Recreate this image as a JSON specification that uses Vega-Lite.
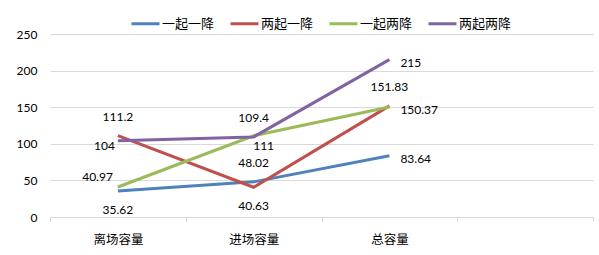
{
  "$schema": "https://vega.github.io/schema/vega-lite/v6.json",
  "width": 543,
  "height": 183,
  "autosize": {"type": "none"},
  "padding": {"left": 50, "top": 34, "right": 6, "bottom": 38},
  "background": "white",
  "data": {
    "values": [
      {"series": "一起一降", "cat": "离场容量", "value": 35.62},
      {"series": "一起一降", "cat": "进场容量", "value": 48.02},
      {"series": "一起一降", "cat": "总容量", "value": 83.64},
      {"series": "两起一降", "cat": "离场容量", "value": 111.2},
      {"series": "两起一降", "cat": "进场容量", "value": 40.63},
      {"series": "两起一降", "cat": "总容量", "value": 151.83},
      {"series": "一起两降", "cat": "离场容量", "value": 40.97},
      {"series": "一起两降", "cat": "进场容量", "value": 111},
      {"series": "一起两降", "cat": "总容量", "value": 150.37},
      {"series": "两起两降", "cat": "离场容量", "value": 104},
      {"series": "两起两降", "cat": "进场容量", "value": 109.4},
      {"series": "两起两降", "cat": "总容量", "value": 215}
    ]
  },
  "encoding": {
    "x": {
      "field": "cat",
      "type": "nominal",
      "sort": null,
      "scale": {"type": "band", "domain": ["离场容量", "进场容量", "总容量", ""], "paddingInner": 0, "paddingOuter": 0},
      "axis": {
        "title": null,
        "labelAngle": 0,
        "tickBand": "extent",
        "grid": false,
        "domainColor": "#d9d9d9",
        "tickColor": "#d9d9d9",
        "tickSize": 4,
        "labelPadding": 12,
        "labelFont": "Noto Sans CJK SC",
        "labelFontSize": 12.5,
        "labelColor": "#000000"
      }
    },
    "y": {
      "field": "value",
      "type": "quantitative",
      "scale": {"domain": [0, 250], "nice": false},
      "axis": {
        "title": null,
        "values": [0, 50, 100, 150, 200, 250],
        "grid": true,
        "gridColor": "#d9d9d9",
        "domain": false,
        "ticks": false,
        "labelPadding": 13,
        "labelFont": "Lato",
        "labelFontSize": 12,
        "labelColor": "#000000"
      }
    }
  },
  "layer": [
    {
      "mark": {"type": "line", "strokeWidth": 3},
      "encoding": {
        "color": {
          "field": "series",
          "type": "nominal",
          "scale": {
            "domain": ["一起一降", "两起一降", "一起两降", "两起两降"],
            "range": ["#4F81BD", "#C0504D", "#9BBB59", "#8064A2"]
          },
          "legend": {
            "title": null,
            "orient": "none",
            "direction": "horizontal",
            "legendX": 80,
            "legendY": -26,
            "symbolType": "stroke",
            "symbolSize": 784,
            "symbolStrokeWidth": 3,
            "labelOffset": 1,
            "columnPadding": 9,
            "labelFont": "Noto Sans CJK SC",
            "labelFontSize": 13,
            "labelColor": "#000000"
          }
        }
      }
    },
    {
      "transform": [{"filter": "(datum.series == '两起一降' && datum.cat != '进场容量') || (datum.series == '两起两降' && datum.cat == '进场容量') || (datum.series == '一起一降' && datum.cat == '进场容量')"}],
      "mark": {"type": "text", "dy": -19, "align": "center", "baseline": "middle", "font": "Lato", "fontSize": 12, "color": "#000000"},
      "encoding": {"text": {"field": "value", "type": "quantitative"}}
    },
    {
      "transform": [{"filter": "(datum.series == '一起一降' && datum.cat == '离场容量') || (datum.series == '两起一降' && datum.cat == '进场容量')"}],
      "mark": {"type": "text", "dy": 19, "align": "center", "baseline": "middle", "font": "Lato", "fontSize": 12, "color": "#000000"},
      "encoding": {"text": {"field": "value", "type": "quantitative"}}
    },
    {
      "transform": [{"filter": "datum.cat == '总容量' && datum.series != '两起一降'"}],
      "mark": {"type": "text", "dx": 11, "dy": 3, "align": "left", "baseline": "middle", "font": "Lato", "fontSize": 12, "color": "#000000"},
      "encoding": {"text": {"field": "value", "type": "quantitative"}}
    },
    {
      "transform": [{"filter": "datum.series == '两起两降' && datum.cat == '离场容量'"}],
      "mark": {"type": "text", "dx": -3, "dy": 5, "align": "right", "baseline": "middle", "font": "Lato", "fontSize": 12, "color": "#000000"},
      "encoding": {"text": {"field": "value", "type": "quantitative"}}
    },
    {
      "transform": [{"filter": "datum.series == '一起两降' && datum.cat == '离场容量'"}],
      "mark": {"type": "text", "dx": -5, "dy": -10, "align": "right", "baseline": "middle", "font": "Lato", "fontSize": 12, "color": "#000000"},
      "encoding": {"text": {"field": "value", "type": "quantitative"}}
    },
    {
      "transform": [{"filter": "datum.series == '一起两降' && datum.cat == '进场容量'"}],
      "mark": {"type": "text", "dx": 10, "dy": 10, "align": "center", "baseline": "middle", "font": "Lato", "fontSize": 12, "color": "#000000"},
      "encoding": {"text": {"field": "value", "type": "quantitative"}}
    }
  ],
  "config": {
    "view": {"stroke": null}
  }
}
